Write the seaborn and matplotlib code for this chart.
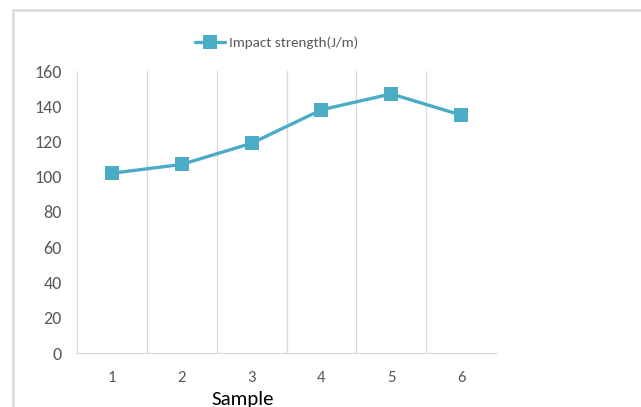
import matplotlib
matplotlib.use("Agg")
import matplotlib.pyplot as plt
import seaborn as sns
import pandas as pd
from matplotlib.patches import Rectangle
from matplotlib.lines import Line2D

samples = [1, 2, 3, 4, 5, 6]
impact = [102, 107, 119, 138, 147, 135]
yticks = [0, 20, 40, 60, 80, 100, 120, 140, 160]
series_name = "Impact strength(J/m)"
xlabel = "Sample"

sns.set_style("white")
plt.rcParams['font.family'] = ['Carlito', 'DejaVu Sans']

df = pd.DataFrame({"Sample": samples, series_name: impact})

fig = plt.figure(figsize=(6.41, 4.07), dpi=100)
ax = fig.add_axes([77/641, 54/407, (496-77)/641, (353-71)/407])
color = "#4BACC6"
sns.lineplot(data=df, x="Sample", y=series_name, ax=ax, color=color,
             marker="s", markersize=10, markeredgewidth=0, linewidth=2.4, legend=False)

ax.set_xlim(0.5, 6.5)
ax.set_ylim(0, 160)
ax.set_yticks(yticks)
ax.set_yticklabels([str(v) for v in yticks], fontsize=13, color="#595959")
ax.set_xticks(samples)
ax.set_xticklabels([str(v) for v in samples], fontsize=12, color="#595959")
ax.set_xticks([1.5, 2.5, 3.5, 4.5, 5.5], minor=True)
ax.grid(False)
ax.grid(True, which="minor", axis="x", color="#D9D9D9", linewidth=0.9)
ax.tick_params(axis="both", which="both", length=0)
ax.tick_params(axis="x", pad=13)
ax.tick_params(axis="y", pad=11)
for s in ["top", "right"]:
    ax.spines[s].set_visible(False)
for s in ["left", "bottom"]:
    ax.spines[s].set_color("#D9D9D9")
    ax.spines[s].set_linewidth(0.9)
ax.set_ylabel("")
ax.set_xlabel(xlabel, fontsize=15, color="black")
ax.xaxis.set_label_coords((243-77)/419, -(399-353)/282)
ax.xaxis.label.set_va("center")

handle = Line2D([0], [0], color=color, marker="s", markersize=10, markeredgewidth=0, linewidth=2.4)
fig.legend([handle], [series_name], loc="center left", bbox_to_anchor=(195/641, 1-43/407),
           frameon=False, fontsize=10.8, handlelength=2.0, handletextpad=0.25,
           borderpad=0, borderaxespad=0, labelcolor="#595959")

fig.patches.append(Rectangle((13/641, -0.1), 1.2, 1.1 - 10/407, transform=fig.transFigure,
                             fill=False, edgecolor="#D9D9D9", linewidth=1.8))

fig.savefig("out.png", dpi=100)
